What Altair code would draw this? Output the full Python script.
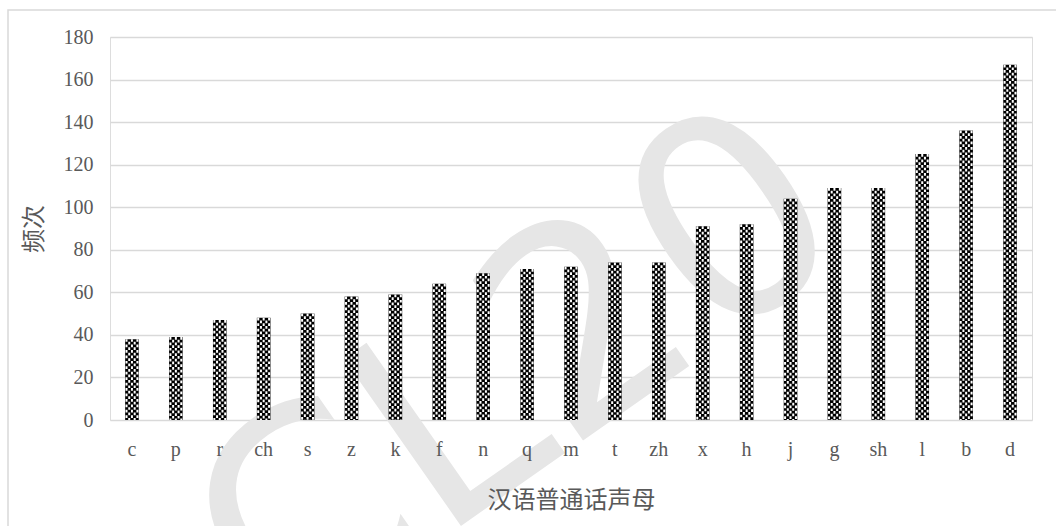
import altair as alt
import pandas as pd

initials = ["c", "p", "r", "ch", "s", "z", "k", "f", "n", "q", "m", "t",
            "zh", "x", "h", "j", "g", "sh", "l", "b", "d"]
counts = [38, 39, 47, 48, 50, 58, 59, 64, 69, 71, 72, 74,
          74, 91, 92, 104, 109, 109, 125, 136, 167]
y_ticks = [0, 20, 40, 60, 80, 100, 120, 140, 160, 180]
x_title = "汉语普通话声母"
y_title = "频次"
watermark = ["CL20"]

df = pd.DataFrame({"initial": initials, "count": counts})
wm_df = pd.DataFrame({"t": watermark})

W, H = 922, 383
GRAY = "#595959"
GRID = "#d9d9d9"
LATIN = "Liberation Serif"
CJK = "Noto Sans CJK SC"

x_enc = alt.X(
    "initial:N", sort=initials,
    scale=alt.Scale(paddingInner=0.69, paddingOuter=0.345),
    axis=alt.Axis(
        title=x_title, labelAngle=0, domain=False, ticks=False, tickSize=0,
        labelFont=LATIN, labelFontSize=20, labelColor=GRAY,
        labelBaseline="middle", labelPadding=29, zindex=1,
        titleFont=CJK, titleFontSize=24, titleColor=GRAY, titleFontWeight="normal",
        titleBaseline="middle", titleY=80,
    ),
)
y_enc = alt.Y(
    "count:Q",
    scale=alt.Scale(domain=[0, 180], nice=False),
    axis=alt.Axis(
        title=y_title, values=y_ticks, domain=False, ticks=False, tickSize=0,
        grid=True, gridColor=GRID, gridWidth=1.5,
        labelFont=LATIN, labelFontSize=20, labelColor=GRAY, labelPadding=17,
        titleFont=CJK, titleFontSize=24, titleColor=GRAY, titleFontWeight="normal",
        titleBaseline="middle", titleX=-76, titleAngle=270,
    ),
)

base = alt.Chart(df)

wm = alt.Chart(wm_df).mark_text(
    angle=325, fontSize=280, color="#e6e6e6", font="DejaVu Sans",
    align="center", baseline="middle",
).encode(x=alt.value(410), y=alt.value(345), text="t:N")

border = alt.Chart(wm_df).mark_rect(
    fill="transparent", stroke=GRID, strokeWidth=1.5,
).encode(x=alt.value(-102), x2=alt.value(980), y=alt.value(-27), y2=alt.value(520))

bars = base.mark_bar(color="black", size=13.6).encode(x=x_enc, y=y_enc)

cell = 2.72
layers = [wm, border, bars]
for i, off in enumerate([-2 * cell, -cell, 0, cell, 2 * cell]):
    layers.append(
        base.mark_rule(
            color="white", strokeWidth=2.0, strokeDash=[cell, cell],
            strokeDashOffset=(0 if i % 2 == 0 else cell), xOffset=off,
        ).encode(x=x_enc, y=y_enc, y2=alt.datum(0))
    )

chart = alt.layer(*layers).properties(
    width=W, height=H,
    padding={"left": 110, "top": 37, "right": 24, "bottom": 106},
    autosize="none",
).configure_view(stroke=None).configure(background="white")

chart.save("out.html", embed_options={"renderer": "svg", "actions": False})
